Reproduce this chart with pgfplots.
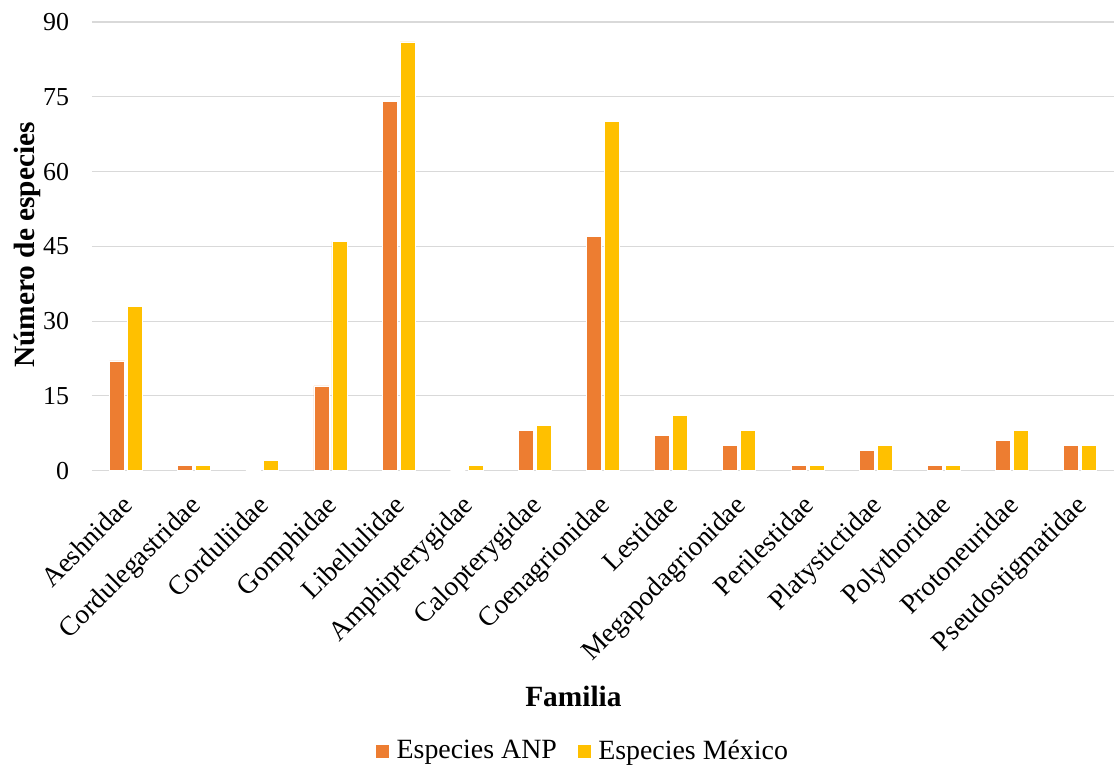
\documentclass[border=0pt]{standalone}
\usepackage{pgfplots}
\pgfplotsset{compat=1.18}
\usepackage{fontspec}
\setmainfont{Liberation Serif}
\definecolor{anp}{HTML}{ED7D31}
\definecolor{mex}{HTML}{FFC000}
\definecolor{gridgray}{HTML}{D9D9D9}

\begin{document}
\fontsize{26}{31}\selectfont
\begin{tikzpicture}
\begin{axis}[
  scale only axis, width=1023bp, height=449bp,
  at={(0,0)}, anchor=south west,
  xmin=-0.5, xmax=14.5, ymin=0, ymax=90,
  ytick={0,15,...,90},
  xtick={0,...,14},
  xticklabels={Aeshnidae,Cordulegastridae,Corduliidae,Gomphidae,Libellulidae,Amphipterygidae,Calopterygidae,Coenagrionidae,Lestidae,Megapodagrionidae,Perilestidae,Platystictidae,Polythoridae,Protoneuridae,Pseudostigmatidae},
  ybar=3bp, bar width=15bp,
  separate axis lines,
  axis x line*=bottom, axis y line*=left,
  x axis line style={draw=gridgray, line width=1.6bp, -},
  y axis line style={draw=none},
  ymajorgrids, grid style={draw=gridgray, line width=1.2bp},
  major tick length=0pt,
  /pgf/number format/assume math mode=true,
  yticklabel style={font=\fontsize{26}{31}\selectfont, xshift=-14bp},
  xticklabel style={font=\fontsize{27.5}{33}\selectfont, rotate=45, anchor=north east,
    inner sep=2bp, xshift=-18bp, yshift=-10bp},
  ylabel={\textbf{Número de especies}},
  xlabel={\textbf{Familia}},
  ylabel style={at={(axis description cs:-0.063,0.503)}, anchor=center, font=\fontsize{29.5}{34}\selectfont},
  xlabel style={at={(axis description cs:0.471,-0.503)}, anchor=center, font=\fontsize{29.5}{34}\selectfont},
  legend style={at={(0.48,-0.626)}, anchor=center, draw=none, legend columns=2,
    font=\fontsize{28}{33}\selectfont,
    nodes={inner sep=1bp},
    /tikz/every even column/.append style={column sep=20bp},
    inner sep=0pt},
  legend image code/.code={\fill[#1,draw=none] (0bp,-6.5bp) rectangle (13bp,6.5bp); \path (19bp,0bp);},
]
\addplot[fill=anp, draw=white, line width=0.8bp] coordinates {
  (0,22) (1,1) (2,0) (3,17) (4,74) (5,0) (6,8) (7,47) (8,7) (9,5) (10,1) (11,4) (12,1) (13,6) (14,5)};
\addplot[fill=mex, draw=white, line width=0.8bp] coordinates {
  (0,33) (1,1) (2,2) (3,46) (4,86) (5,1) (6,9) (7,70) (8,11) (9,8) (10,1) (11,5) (12,1) (13,8) (14,5)};
\legend{Especies ANP, Especies México}
\end{axis}
\useasboundingbox (-92bp,-298bp) rectangle (1023bp,471bp);
\end{tikzpicture}
\end{document}
